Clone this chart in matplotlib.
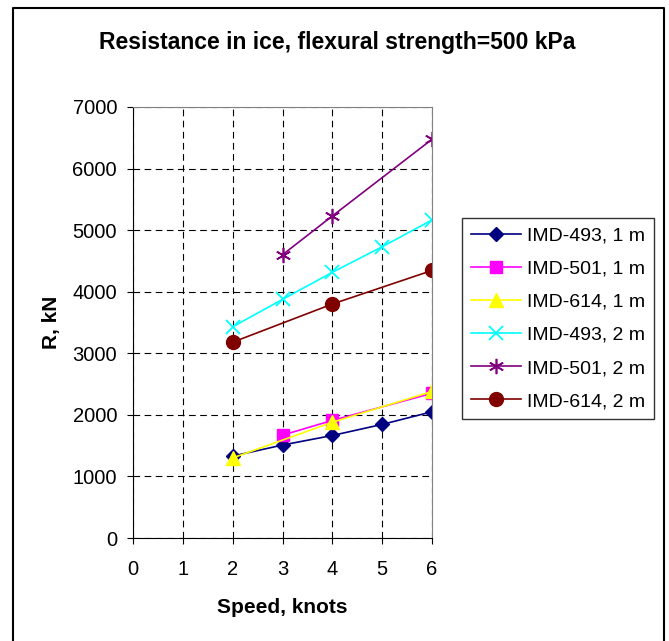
import matplotlib.pyplot as plt
from matplotlib.lines import Line2D

plt.rcParams['font.family'] = ['Liberation Sans', 'DejaVu Sans']

# Data
speed = [2, 3, 4, 5, 6]
imd493_1m = [1330, 1510, 1665, 1845, 2050]
speed_501_1m = [3, 4, 6]
imd501_1m = [1670, 1910, 2350]
speed_614_1m = [2, 4, 6]
imd614_1m = [1300, 1880, 2380]
imd493_2m = [3430, 3875, 4315, 4730, 5165]
speed_501_2m = [3, 4, 6]
imd501_2m = [4600, 5230, 6475]
speed_614_2m = [2, 4, 6]
imd614_2m = [3180, 3800, 4345]

W, H = 669, 641
fig = plt.figure(figsize=(W / 100, H / 100), dpi=100)
ax = fig.add_axes([133 / W, 1 - 538 / H, (432 - 133) / W, (538 - 107) / H])

ax.plot(speed, imd493_1m, color='#000080', marker='D', markersize=7, lw=1.2, label='IMD-493, 1 m')
ax.plot(speed_501_1m, imd501_1m, color='#FF00FF', marker='s', markersize=9, lw=1.2, label='IMD-501, 1 m')
ax.plot(speed_614_1m, imd614_1m, color='#FFFF00', marker='^', markersize=10, lw=1.2, label='IMD-614, 1 m')
ax.plot(speed, imd493_2m, color='#00FFFF', marker='x', markersize=10, mew=1.3, lw=1.2, label='IMD-493, 2 m')
ax.plot(speed_501_2m, imd501_2m, color='#800080', marker=(6, 2, 0), markersize=11, mew=1.2, lw=1.2, label='IMD-501, 2 m')
ax.plot(speed_614_2m, imd614_2m, color='#800000', marker='o', markersize=10, lw=1.2, label='IMD-614, 2 m')

ax.set_xlim(0, 6)
ax.set_ylim(0, 7000)
ax.set_xticks(range(0, 7))
ax.set_yticks(range(0, 7001, 1000))
ax.grid(True, color='black', linestyle=(0, (6, 4)), linewidth=0.8)
ax.tick_params(axis='both', labelsize=14.5, direction='out', length=4.5, color='black')
ax.tick_params(axis='y', pad=7)
ax.tick_params(axis='x', pad=11)
for s in ['top', 'right']:
    ax.spines[s].set_color('#808080')
for s in ['left', 'bottom']:
    ax.spines[s].set_color('black')

ax.set_xlabel('Speed, knots', fontsize=15, fontweight='bold', labelpad=14)
ax.set_ylabel('R, kN', fontsize=15, fontweight='bold', labelpad=8)
fig.text(0.504, 1 - 42 / H, 'Resistance in ice, flexural strength=500 kPa', ha='center', va='center',
         fontsize=16.5, fontweight='bold')

leg = ax.legend(loc='upper left', bbox_to_anchor=(462 / W, 1 - 218 / H), bbox_transform=fig.transFigure,
                fontsize=14, frameon=True, fancybox=False, edgecolor='black',
                handlelength=2.6, labelspacing=0.8, borderpad=0.45, handletextpad=0.3, borderaxespad=0)
leg.get_frame().set_linewidth(1.0)

# chart area border (open at the bottom, as in the picture)
bx = [13 / W, 13 / W, 664 / W, 664 / W]
by = [0, 1 - 8 / H, 1 - 8 / H, 0]
fig.lines.append(Line2D(bx, by, transform=fig.transFigure, color='black', linewidth=1.5))

plt.savefig('out.png', dpi=100)
